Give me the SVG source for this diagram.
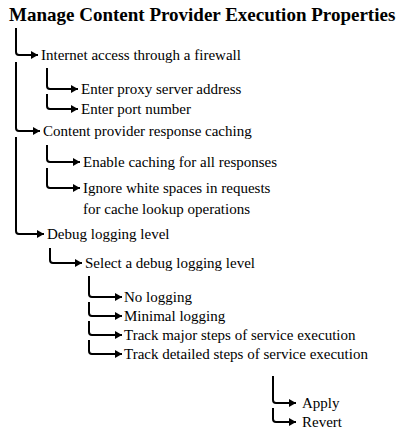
<svg xmlns="http://www.w3.org/2000/svg" width="413" height="440" viewBox="0 0 413 440">
<defs>
<marker id="ah" viewBox="0 0 7 8" refX="7" refY="4" markerWidth="7" markerHeight="8" markerUnits="userSpaceOnUse" orient="auto">
<path d="M0,0 L7,4 L0,8 Z" fill="#000"/>
</marker>
<style>
.t{font-family:"Liberation Serif","Times New Roman",serif;font-size:15px;fill:#000}
.h{font-family:"Liberation Serif","Times New Roman",serif;font-size:19px;font-weight:bold;fill:#000}
.c{fill:none;stroke:#000;stroke-width:2;marker-end:url(#ah)}
</style>
</defs>
<rect width="413" height="440" fill="#fff"/>
<g id="connectors">
<path class="c" d="M16,28 V52 Q16,55 19,55 H38"/>
<path class="c" d="M16,62 V128 Q16,131 19,131 H40"/>
<path class="c" d="M16,137 V231 Q16,234 19,234 H44"/>
<path class="c" d="M47,68 V86 Q47,89 50,89 H78"/>
<path class="c" d="M47,94 V106 Q47,109 50,109 H78"/>
<path class="c" d="M47,145 V159 Q47,162 50,162 H80"/>
<path class="c" d="M47,168 V185 Q47,188 50,188 H80"/>
<path class="c" d="M50,248 V260 Q50,263 53,263 H82"/>
<path class="c" d="M89,276 V294 Q89,297 92,297 H122"/>
<path class="c" d="M89,302 V313 Q89,316 92,316 H122"/>
<path class="c" d="M89,321 V332 Q89,335 92,335 H122"/>
<path class="c" d="M89,340 V351 Q89,354 92,354 H122"/>
<path class="c" d="M273,376 V400 Q273,403 276,403 H296"/>
<path class="c" d="M273,408 V419 Q273,422 276,422 H296"/>
</g>
<g id="title"><text class="h" x="9" y="21">Manage Content Provider Execution Properties</text></g>
<g id="n-internet"><text class="t" x="41" y="60">Internet access through a firewall</text></g>
<g id="n-proxy"><text class="t" x="81" y="94">Enter proxy server address</text></g>
<g id="n-port"><text class="t" x="81" y="114">Enter port number</text></g>
<g id="n-caching"><text class="t" x="43" y="136">Content provider response caching</text></g>
<g id="n-enable"><text class="t" x="83" y="167">Enable caching for all responses</text></g>
<g id="n-ignore"><text class="t" x="83" y="193">Ignore white spaces in requests</text><text class="t" x="83" y="214">for cache lookup operations</text></g>
<g id="n-debug"><text class="t" x="47" y="239">Debug logging level</text></g>
<g id="n-select"><text class="t" x="85" y="268">Select a debug logging level</text></g>
<g id="n-none"><text class="t" x="124" y="302">No logging</text></g>
<g id="n-minimal"><text class="t" x="124" y="321">Minimal logging</text></g>
<g id="n-major"><text class="t" x="124" y="340">Track major steps of service execution</text></g>
<g id="n-detailed"><text class="t" x="124" y="359">Track detailed steps of service execution</text></g>
<g id="n-apply"><text class="t" x="302" y="408">Apply</text></g>
<g id="n-revert"><text class="t" x="302" y="427">Revert</text></g>
</svg>
